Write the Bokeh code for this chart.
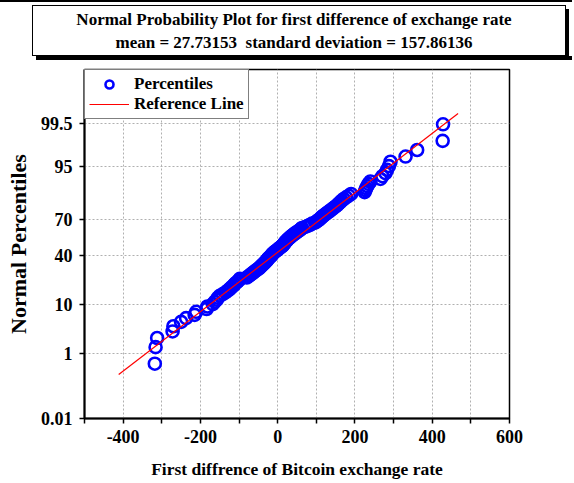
from statistics import NormalDist

from bokeh.plotting import figure
from bokeh.models import (ColumnDataSource, FixedTicker, Range1d, Div, Legend, LegendItem)
from bokeh.layouts import column
from bokeh.embed import file_html
from bokeh.resources import INLINE

# ---------------- data ----------------
title_line1 = "Normal Probability Plot for first difference of exchange rate"
mean_value = 27.73153
std_value = 157.86136

# sorted first differences
first_diffs = [
    -318, -316, -312, -272, -270, -250, -237, -215, -211, -184,
    -182, -168, -163, -158, -155, -150, -142, -135, -129, -124,
    -120, -115, -112, -108, -104, -100, -98, -80, -75, -71,
    -67, -63, -59, -55, -50, -47, -44, -41, -38, -35,
    -32, -30, -27, -25, -23, -20, -17, -15, -13, -10,
    -7, -3, 0, 3, 6, 10, 13, 15, 17, 19,
    21, 24, 26, 29, 32, 35, 38, 42, 45, 49,
    53, 57, 60, 63, 71, 78, 84, 89, 97, 101,
    105, 109, 112, 115, 119, 123, 127, 132, 136, 141,
    145, 150, 154, 158, 162, 166, 171, 177, 184, 190,
    225, 227, 229, 232, 235, 240, 266, 271, 279, 283,
    288, 292, 331, 361, 427, 428,
]

x_ticks = [-500, -400, -300, -200, -100, 0, 100, 200, 300, 400, 500, 600]
x_tick_labels = ["", "-400", "", "-200", "", "0", "", "200", "", "400", "", "600"]
y_tick_percents = [0.01, 1, 10, 40, 70, 95, 99.5]
y_tick_labels = ["0.01", "1", "10", "40", "70", "95", "99.5"]
y_limit_percents = [0.01, 99.99]
ref_line_percents = [0.27, 99.73]

# ---------------- transforms ----------------
nd = NormalDist()
n = len(first_diffs)
xs = sorted(first_diffs)
zs = [nd.inv_cdf((i + 1 - 0.375) / (n + 0.25)) for i in range(n)]
y_tick_z = [nd.inv_cdf(p / 100.0) for p in y_tick_percents]
y_lo, y_hi = [nd.inv_cdf(p / 100.0) for p in y_limit_percents]
ref_z = [nd.inv_cdf(p / 100.0) for p in ref_line_percents]
ref_x = [mean_value + std_value * z for z in ref_z]

FONT = "Liberation Serif"
W = 572

# ---------------- title box ----------------
title_html = (
    f'<div style="position:relative; width:{W}px; height:60px;">'
    f'<div style="position:absolute; left:0; top:0; width:{W}px; height:2px; background:#000;"></div>'
    '<div style="position:absolute; left:36px; top:56px; width:536px; height:4px; background:#000;"></div>'
    '<div style="position:absolute; left:565px; top:9px; width:4px; height:50px; background:#000;"></div>'
    '<div style="position:absolute; left:32px; top:5px; width:534px; height:51px; '
    'border:1px solid #000; background:#fff; box-sizing:border-box; '
    f'font-family:\'{FONT}\'; font-weight:bold; font-size:17px; line-height:23px; '
    'text-align:center; padding-top:2px; padding-right:10px; color:#000;">'
    f'{title_line1}<br>mean = {mean_value:.5f}&nbsp;&nbsp;standard deviation = {std_value:.5f}'
    '</div></div>'
)
title_div = Div(text=title_html, width=W, height=60, margin=0)

# ---------------- figure ----------------
p = figure(width=W, height=421, output_backend="svg", toolbar_location=None,
           x_range=Range1d(-500, 600), y_range=Range1d(y_lo, y_hi),
           min_border_left=84, min_border_right=W - 509, min_border_top=9, min_border_bottom=62)

p.outline_line_color = "black"
p.outline_line_width = 1.5

src = ColumnDataSource(dict(x=xs, z=zs))
pts = p.scatter("x", "z", source=src, marker="circle", size=12, fill_color=None,
                line_color="#0000ff", line_width=2.6)
ref = p.line(ref_x, ref_z, line_color="#ff0000", line_width=1.2)

# axes
p.xaxis.ticker = FixedTicker(ticks=x_ticks)
p.xaxis.major_label_overrides = {t: l for t, l in zip(x_ticks, x_tick_labels)}
p.yaxis.ticker = FixedTicker(ticks=y_tick_z)
p.yaxis.major_label_overrides = {t: l for t, l in zip(y_tick_z, y_tick_labels)}
p.xaxis.axis_label = "First diffrence of Bitcoin exchange rate"
p.yaxis.axis_label = "Normal Percentiles"

for ax in (p.xaxis[0], p.yaxis[0]):
    ax.axis_line_color = "black"
    ax.axis_line_width = 2
    ax.major_tick_line_color = "black"
    ax.major_tick_line_width = 1.5
    ax.major_tick_out = 5
    ax.major_tick_in = 0
    ax.minor_tick_line_color = None
    ax.major_label_text_font = FONT
    ax.major_label_text_font_style = "bold"
    ax.major_label_text_font_size = "18px"
    ax.major_label_text_color = "black"
    ax.axis_label_text_font = FONT
    ax.axis_label_text_font_style = "bold"
    ax.axis_label_text_color = "black"

p.xaxis.axis_label_text_font_size = "17.5px"
p.yaxis.axis_label_text_font_size = "22px"
p.xaxis.major_label_standoff = 6
p.xaxis.axis_label_standoff = 13
p.yaxis.major_label_standoff = 7
p.yaxis.axis_label_standoff = 7

# grid
for g in (p.xgrid[0], p.ygrid[0]):
    g.grid_line_color = "#b0b0b0"
    g.grid_line_dash = "2 2"
    g.grid_line_width = 1
p.xgrid.ticker = FixedTicker(ticks=x_ticks)
p.ygrid.ticker = FixedTicker(ticks=y_tick_z)

# legend
legend = Legend(items=[LegendItem(label="Percentiles", renderers=[pts]),
                       LegendItem(label="Reference Line", renderers=[ref])],
                location="top_left")
legend.border_line_color = "black"
legend.border_line_width = 1
legend.margin = 0
legend.padding = 4
legend.spacing = 0
legend.glyph_width = 40
legend.glyph_height = 20
legend.label_height = 20
legend.label_standoff = 5
legend.label_text_font = FONT
legend.label_text_font_style = "bold"
legend.label_text_font_size = "17px"
legend.label_text_color = "black"
legend.background_fill_alpha = 1
p.add_layout(legend)

layout = column(title_div, p, spacing=0)

open("out.html", "w").write(file_html(layout, INLINE))
